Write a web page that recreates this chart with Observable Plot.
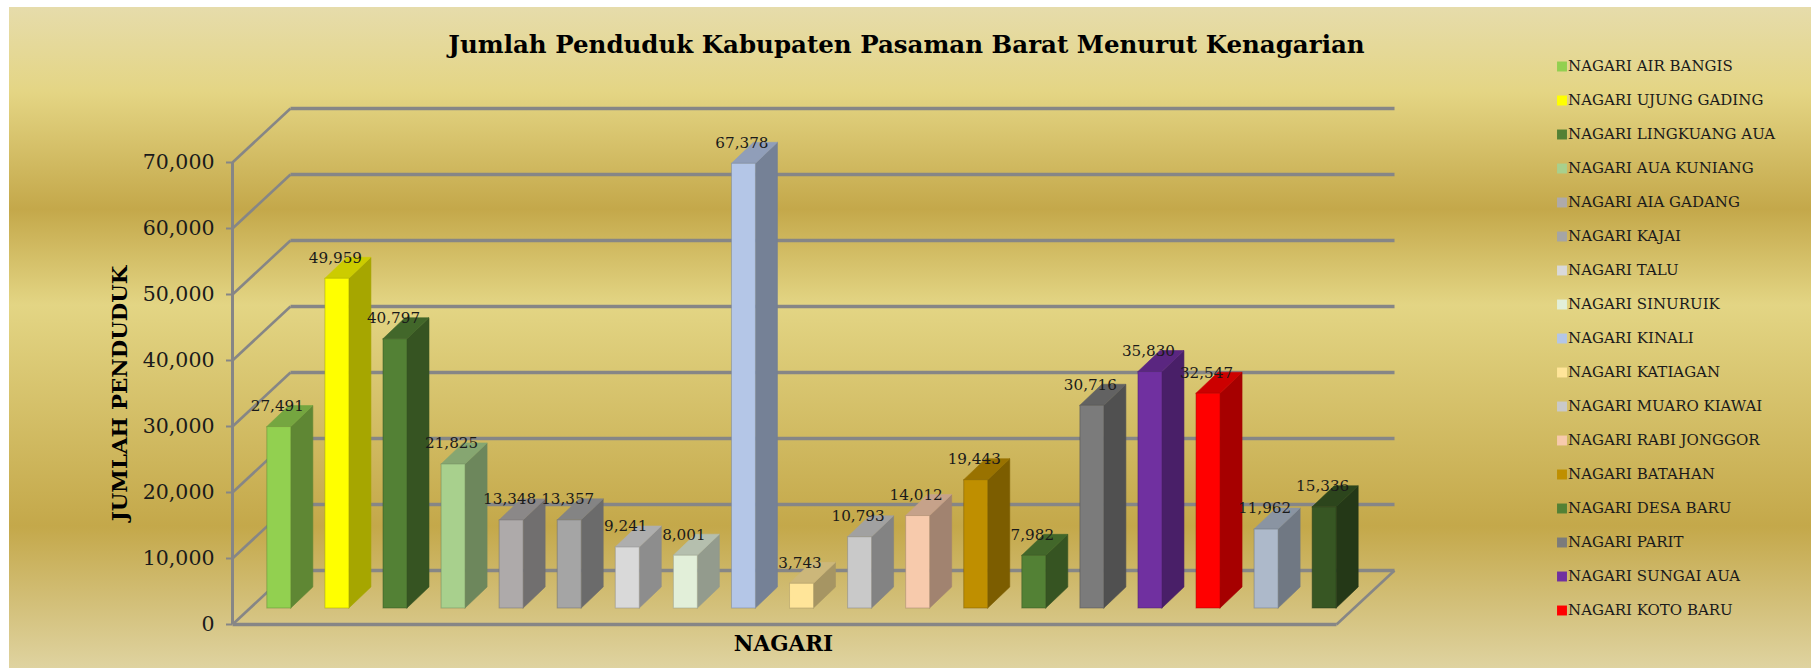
<!DOCTYPE html>
<html><head><meta charset="utf-8">
<script src="https://cdn.jsdelivr.net/npm/d3@7"></script>
<script src="https://cdn.jsdelivr.net/npm/@observablehq/plot@0.6"></script>
<style>
html,body{margin:0;padding:0;background:#fff;width:1811px;height:668px;overflow:hidden}
#card{position:absolute;left:9px;top:7px;width:1802px;height:661px;
background:linear-gradient(180deg,#e6dcab 0px,#e4d584 85px,#c4a84a 202px,#e3d584 298px,#c4a84a 519px,#dfd3a0 661px)}
#main,#legend{position:absolute;top:0}
#main{left:0}#legend{left:1540px}
</style></head><body>
<div id="card"></div><div id="main"></div><div id="legend"></div>
<script>
const titleText="Jumlah Penduduk Kabupaten Pasaman Barat Menurut Kenagarian";
const yLabel="JUMLAH PENDUDUK";
const xLabel="NAGARI";
const values=[27491,49959,40797,21825,13348,13357,9241,8001,67378,3743,10793,14012,19443,7982,30716,35830,32547,11962,15336];
const colors=["#92D050","#FFFF00","#538135","#A8D08D","#AEAAAA","#A5A5A5","#D9D9D9","#E2EFD9","#B4C6E7","#FFE599","#C9C9C9","#F7CAAC","#BF8F00","#538135","#7B7B7B","#7030A0","#FF0000","#ADB9CA","#375623"];
const legendNames=["NAGARI AIR BANGIS","NAGARI UJUNG GADING","NAGARI LINGKUANG AUA","NAGARI AUA KUNIANG","NAGARI AIA GADANG","NAGARI KAJAI","NAGARI TALU","NAGARI SINURUIK","NAGARI KINALI","NAGARI KATIAGAN","NAGARI MUARO KIAWAI","NAGARI RABI JONGGOR","NAGARI BATAHAN","NAGARI DESA BARU","NAGARI PARIT","NAGARI SUNGAI AUA","NAGARI KOTO BARU"];
const ticks=[0,10000,20000,30000,40000,50000,60000,70000];

const FONT='"DejaVu Serif",serif';
const barW=0.413, depthX=0.379, depthY=3182, wallX=0.999, wallY=8182;
const xMin=-0.6, xMax=18.41;
const shade=(c,k)=>{const r=d3.rgb(c);return d3.rgb(r.r*k,r.g*k,r.b*k).formatHex();};
const bars=values.map((v,i)=>({i,v,c:colors[i],side:shade(colors[i],.65),top:shade(colors[i],.8)}));
const sides=bars.flatMap(b=>[
 {i:b.i,x:b.i+barW,y1:0,y2:b.v,f:b.side},
 {i:b.i,x:b.i+barW+depthX,y1:depthY,y2:b.v+depthY,f:b.side}]);
const tops=bars.flatMap(b=>[
 {i:b.i,x1:b.i,x2:b.i+barW,y:b.v,f:b.top},
 {i:b.i,x1:b.i+depthX,x2:b.i+barW+depthX,y:b.v+depthY,f:b.top}]);
const grey="#868686";
const offs={dy:-16};
const main=Plot.plot({
 width:1811,height:668,marginLeft:232,marginRight:475,marginTop:162,marginBottom:44,
 style:{background:"transparent",fontFamily:FONT,maxWidth:"none"},
 x:{type:"linear",domain:[xMin,xMax],axis:null},
 y:{type:"linear",domain:[0,70000],axis:null},
 marks:[
  Plot.link(ticks,{x1:xMin+wallX,x2:xMax+wallX,y1:t=>t+wallY,y2:t=>t+wallY,stroke:grey,strokeWidth:3.6}),
  Plot.link(ticks,{x1:xMin,x2:xMin+wallX,y1:t=>t,y2:t=>t+wallY,stroke:grey,strokeWidth:2.6}),
  Plot.link([0],{x1:xMax,x2:xMax+wallX,y1:0,y2:wallY,stroke:grey,strokeWidth:2.6}),
  Plot.link([0],{x1:xMin,x2:xMax,y1:0,y2:0,stroke:grey,strokeWidth:3.6}),
  Plot.ruleX([xMin],{y1:0,y2:70000,stroke:grey,strokeWidth:3}),
  Plot.axisY(ticks,{anchor:"left",tickFormat:d3.format(","),tickSize:6,tickPadding:12,stroke:grey,strokeWidth:2,fontSize:20.5,fill:"#1a1a1a",label:null}),
  Plot.area(sides,{x1:"x",y1:"y1",y2:"y2",z:"i",fill:{value:"f",scale:null},stroke:{value:"f",scale:null},strokeWidth:.6,...offs}),
  Plot.area(tops,{x1:"x1",x2:"x2",y1:"y",z:"i",fill:{value:"f",scale:null},stroke:{value:"f",scale:null},strokeWidth:.6,...offs}),
  Plot.rect(bars,{x1:"i",x2:d=>d.i+barW,y1:0,y2:"v",fill:{value:"c",scale:null},stroke:{value:"side",scale:null},strokeOpacity:.5,strokeWidth:1,...offs}),
  Plot.text(bars,{x:d=>d.i+barW/2,y:d=>d.v+depthY,text:d=>d3.format(",")(d.v),fontSize:15.2,fill:"#1a1a1a",dx:-2,...offs}),
  Plot.text([titleText],{frameAnchor:"top-left",dx:906-232,dy:45-162,text:d=>d,textAnchor:"middle",lineAnchor:"middle",fontSize:24.5,fontWeight:"bold",fill:"#000"}),
  Plot.text([yLabel],{frameAnchor:"top-left",dx:120-232,dy:393-162,text:d=>d,rotate:-90,textAnchor:"middle",lineAnchor:"middle",fontSize:21.3,fontWeight:"bold",fill:"#000"}),
  Plot.text([xLabel],{frameAnchor:"top-left",dx:783-232,dy:644-162,text:d=>d,textAnchor:"middle",lineAnchor:"middle",fontSize:21.5,fontWeight:"bold",fill:"#000"})
 ]
});
document.getElementById("main").append(main);
const legend=Plot.plot({
 width:271,height:668,margin:0,
 style:{background:"transparent",fontFamily:FONT,maxWidth:"none"},
 x:{type:"linear",domain:[0,271],range:[0,271],axis:null},
 y:{type:"point",domain:legendNames,range:[60.6,614.6],padding:0,axis:null},
 marks:[
  Plot.dot(legendNames,{x:()=>21.5,y:d=>d,symbol:"square",r:5.6,fill:{value:(d,i)=>colors[i],scale:null}}),
  Plot.text(legendNames,{x:()=>27.5,y:d=>d,text:d=>d,textAnchor:"start",fontSize:15,fill:"#1a1a1a"})
 ]
});
document.getElementById("legend").append(legend);
</script></body></html>
